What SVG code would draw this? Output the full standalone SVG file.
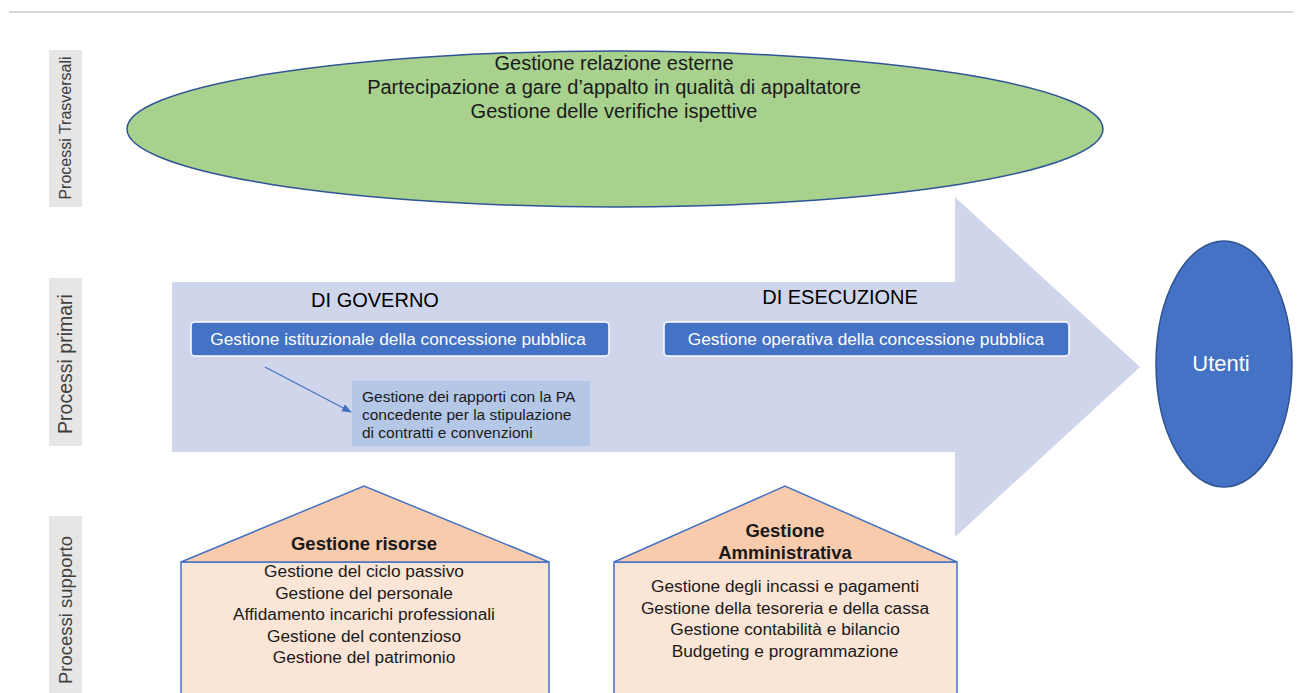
<svg xmlns="http://www.w3.org/2000/svg" width="1297" height="693" viewBox="0 0 1297 693">
<defs>
<style>
text{font-family:"Liberation Sans",Arial,sans-serif;}
.side{fill:#e7e6e6;}
.sidet{fill:#404040;text-anchor:middle;}
.hdr{font-size:20px;fill:#000;text-anchor:middle;}
.bbox{fill:#4472c4;stroke:#ffffff;stroke-width:1.5;}
.bt{font-size:17.3px;fill:#fff;text-anchor:middle;}
.roof{fill:#f8cbad;stroke:#4472c4;stroke-width:1.5;}
.body{fill:#fbe5d6;stroke:#4472c4;stroke-width:1.5;}
.ht{font-size:18.5px;font-weight:bold;fill:#1a1a1a;text-anchor:middle;}
.lt{font-size:17.3px;fill:#1a1a1a;text-anchor:middle;}
.et{font-size:20px;fill:#1a1a1a;text-anchor:middle;}
.st{font-size:15.5px;fill:#1a1a1a;}
</style>
<marker id="ah" markerWidth="10" markerHeight="8" refX="9" refY="4" orient="auto" markerUnits="userSpaceOnUse">
<path d="M0,0 L10,4 L0,8 z" fill="#4472c4"/>
</marker>
</defs>
<rect width="1297" height="693" fill="#ffffff"/>
<line x1="9" y1="12" x2="1293" y2="12" stroke="#c8c8c8" stroke-width="1.5"/>

<g id="label-trasversali">
<rect class="side" x="49" y="50" width="33" height="157"/>
<text class="sidet" font-size="16" transform="translate(71,128) rotate(-90)">Processi Trasversali</text>
</g>
<g id="label-primari">
<rect class="side" x="49" y="278" width="33" height="168"/>
<text class="sidet" font-size="19.5" transform="translate(72,364) rotate(-90)">Processi primari</text>
</g>
<g id="label-supporto">
<rect class="side" x="49" y="516" width="33" height="180"/>
<text class="sidet" font-size="18.5" transform="translate(72,610) rotate(-90)">Processi supporto</text>
</g>

<g id="trasversali">
<ellipse cx="615" cy="129" rx="488" ry="78" fill="#a9d18e" stroke="#2f5597" stroke-width="1.5"/>
<text class="et" x="614" y="70">Gestione relazione esterne</text>
<text class="et" x="614" y="94">Partecipazione a gare d’appalto in qualità di appaltatore</text>
<text class="et" x="614" y="118">Gestione delle verifiche ispettive</text>
</g>

<g id="primari-arrow">
<path d="M172,282 L955,282 L955,197 L1140,367 L955,537 L955,452 L172,452 z" fill="#cfd5ea"/>
</g>

<g id="di-governo">
<text class="hdr" x="375" y="307">DI GOVERNO</text>
</g>
<g id="di-esecuzione">
<text class="hdr" x="840" y="304">DI ESECUZIONE</text>
</g>

<g id="gestione-istituzionale">
<rect class="bbox" x="191" y="322" width="418" height="34" rx="4"/>
<text class="bt" x="398" y="345">Gestione istituzionale della concessione pubblica</text>
</g>
<g id="gestione-operativa">
<rect class="bbox" x="664" y="322" width="405" height="34" rx="4"/>
<text class="bt" x="866" y="345">Gestione operativa della concessione pubblica</text>
</g>

<g id="rapporti-pa">
<rect x="352" y="381" width="238" height="65" fill="#b4c7e7"/>
<text class="st" x="362" y="402">Gestione dei rapporti con la PA</text>
<text class="st" x="362" y="420">concedente per la stipulazione</text>
<text class="st" x="362" y="438">di contratti e convenzioni</text>
</g>

<g id="connectors">
<line x1="265" y1="367" x2="351" y2="412" stroke="#4472c4" stroke-width="1.2" marker-end="url(#ah)"/>
</g>

<g id="utenti">
<ellipse cx="1224" cy="364" rx="68" ry="123" fill="#4472c4" stroke="#2f528f" stroke-width="1.5"/>
<text x="1221" y="371" font-size="22" text-anchor="middle" fill="#fff">Utenti</text>
</g>

<g id="gestione-risorse">
<path class="body" d="M181,562 L549,562 L549,700 L181,700 z"/>
<path class="roof" d="M181,562 L364,486 L549,562 z"/>
<text class="ht" x="364" y="550">Gestione risorse</text>
<text class="lt" x="364" y="577">Gestione del ciclo passivo</text>
<text class="lt" x="364" y="599">Gestione del personale</text>
<text class="lt" x="364" y="620">Affidamento incarichi professionali</text>
<text class="lt" x="364" y="642">Gestione del contenzioso</text>
<text class="lt" x="364" y="663">Gestione del patrimonio</text>
</g>

<g id="gestione-amministrativa">
<path class="body" d="M614,562 L957,562 L957,700 L614,700 z"/>
<path class="roof" d="M614,562 L785,486 L957,562 z"/>
<text class="ht" x="785" y="537">Gestione</text>
<text class="ht" x="785" y="559">Amministrativa</text>
<text class="lt" x="785" y="592">Gestione degli incassi e pagamenti</text>
<text class="lt" x="785" y="614">Gestione della tesoreria e della cassa</text>
<text class="lt" x="785" y="635">Gestione contabilità e bilancio</text>
<text class="lt" x="785" y="657">Budgeting e programmazione</text>
</g>
</svg>
